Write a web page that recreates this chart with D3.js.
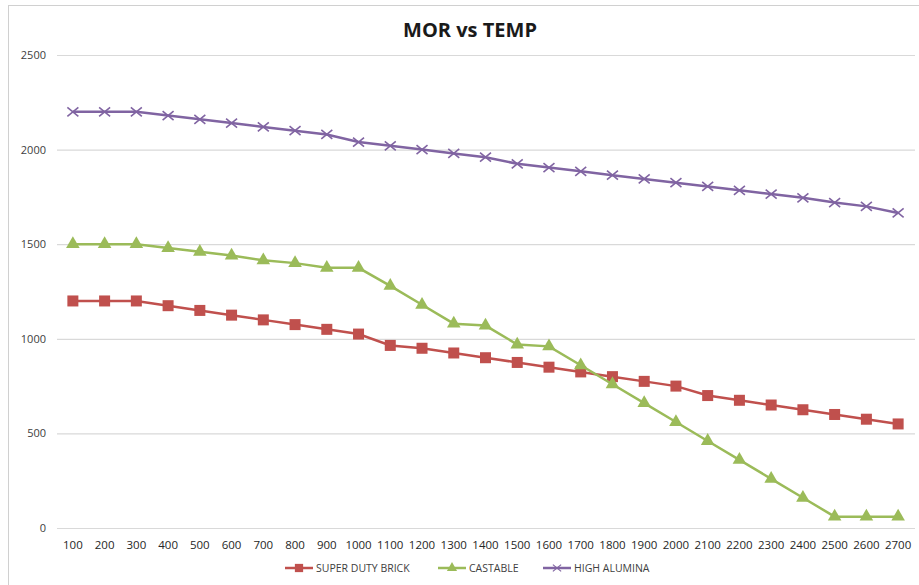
<!DOCTYPE html>
<html>
<head>
<meta charset="utf-8">
<script src="https://cdn.jsdelivr.net/npm/d3@7"></script>
<style>
  body { margin: 0; background: #fff; }
  svg text { font-family: "Open Sans", Arial, sans-serif; }
</style>
</head>
<body>
<div id="chart"></div>
<script>
// Temperatures along the x axis
var temps = [100, 200, 300, 400, 500, 600, 700, 800, 900, 1000, 1100, 1200, 1300, 1400,
             1500, 1600, 1700, 1800, 1900, 2000, 2100, 2200, 2300, 2400, 2500, 2600, 2700];

var superDutyBrick = [1200, 1200, 1200, 1175, 1150, 1125, 1100, 1075, 1050, 1025, 965, 950, 925, 900,
                      875, 850, 825, 800, 775, 750, 700, 675, 650, 625, 600, 575, 550];
var castable = [1500, 1500, 1500, 1480, 1460, 1440, 1415, 1400, 1375, 1375, 1280, 1180, 1080, 1070,
                970, 960, 860, 760, 660, 560, 460, 360, 260, 160, 60, 60, 60];
var highAlumina = [2200, 2200, 2200, 2180, 2160, 2140, 2120, 2100, 2080, 2040, 2020, 2000, 1980, 1960,
                   1925, 1905, 1885, 1865, 1845, 1825, 1805, 1785, 1765, 1745, 1720, 1700, 1665];

var seriesNames = ["SUPER DUTY BRICK", "CASTABLE", "HIGH ALUMINA"];
var yTicks = [0, 500, 1000, 1500, 2000, 2500];

var W = 919, H = 585;
var margins = { top: 55, right: 4, bottom: 57, left: 57 },
    width = W - margins.left - margins.right,
    height = H - margins.top - margins.bottom;

var series = [
    { name: seriesNames[0], values: superDutyBrick, color: "#C0504D", marker: "square" },
    { name: seriesNames[1], values: castable, color: "#9BBB59", marker: "triangle" },
    { name: seriesNames[2], values: highAlumina, color: "#8064A2", marker: "cross" }
];

var svg = d3.select("#chart").append("svg")
    .attr("width", W)
    .attr("height", H);

// chart frame
svg.append("rect")
    .attr("x", 8.5).attr("y", 5.5)
    .attr("width", W).attr("height", H)
    .attr("fill", "#fff")
    .attr("stroke", "#d0d0d0");

svg.append("text")
    .attr("x", 470).attr("y", 37)
    .attr("text-anchor", "middle")
    .style("font-size", "20px")
    .style("font-weight", "bold")
    .attr("fill", "#1a1a1a")
    .text("MOR vs TEMP");

var g = svg.append("g")
    .attr("transform", "translate(" + margins.left + "," + margins.top + ")");

var x = d3.scaleBand()
    .domain(temps)
    .range([0, width - 1]);

var y = d3.scaleLinear()
    .domain([0, 2500])
    .range([height, 0]);

// gridlines
g.append("g")
    .attr("class", "grid")
    .call(d3.axisLeft(y).tickValues(yTicks).tickSize(-width).tickFormat(""))
    .call(function (s) {
        s.select(".domain").remove();
        s.selectAll("line").attr("stroke", "#d9d9d9").attr("stroke-width", 1.2);
    });

// y labels
g.append("g")
    .call(d3.axisLeft(y).tickValues(yTicks).tickSize(0).tickPadding(11).tickFormat(d3.format("d")))
    .call(function (s) {
        s.select(".domain").remove();
        s.selectAll("text").attr("fill", "#404040").style("font-size", "11px");
    });

// x axis
g.append("g")
    .attr("transform", "translate(0," + height + ")")
    .call(d3.axisBottom(x).tickSize(0).tickPadding(13))
    .call(function (s) {
        s.select(".domain").attr("stroke", "#d9d9d9").attr("stroke-width", 1.2);
        s.selectAll("text").attr("fill", "#262626").style("font-size", "11.5px");
    });

var cx = function (i) { return x(temps[i]) + x.bandwidth() / 2; };

var line = d3.line()
    .x(function (d, i) { return cx(i); })
    .y(function (d) { return y(d); });

function drawMarker(sel, type, color) {
    if (type === "square") {
        sel.append("rect")
            .attr("x", -5.5).attr("y", -5.5).attr("width", 11).attr("height", 11)
            .attr("fill", color);
    } else if (type === "triangle") {
        sel.append("path")
            .attr("d", d3.symbol().type(d3.symbolTriangle).size(80))
            .attr("fill", color);
    } else {
        sel.append("path")
            .attr("d", "M-5.5,-4.5L5.5,4.5M-5.5,4.5L5.5,-4.5")
            .attr("stroke", color).attr("stroke-width", 1.6).attr("fill", "none");
    }
}

series.forEach(function (s) {
    g.append("path")
        .datum(s.values)
        .attr("d", line)
        .attr("fill", "none")
        .attr("stroke", s.color)
        .attr("stroke-width", 2.5);

    g.append("g").selectAll("g")
        .data(s.values)
        .enter().append("g")
        .attr("transform", function (d, i) { return "translate(" + cx(i) + "," + y(d) + ")"; })
        .each(function () { drawMarker(d3.select(this), s.marker, s.color); });
});

// legend
var legendX = [285, 438, 543];
var legend = svg.append("g").attr("transform", "translate(0,568)");
series.forEach(function (s, i) {
    var item = legend.append("g").attr("transform", "translate(" + legendX[i] + ",0)");
    item.append("line")
        .attr("x1", 0).attr("x2", 28)
        .attr("stroke", s.color).attr("stroke-width", 2.5);
    drawMarker(item.append("g").attr("transform", "translate(14,0) scale(0.75)"), s.marker, s.color);
    item.append("text")
        .attr("x", 31).attr("y", 4)
        .attr("fill", "#404040")
        .style("font-size", "10.5px")
        .text(s.name);
});
</script>
</body>
</html>
